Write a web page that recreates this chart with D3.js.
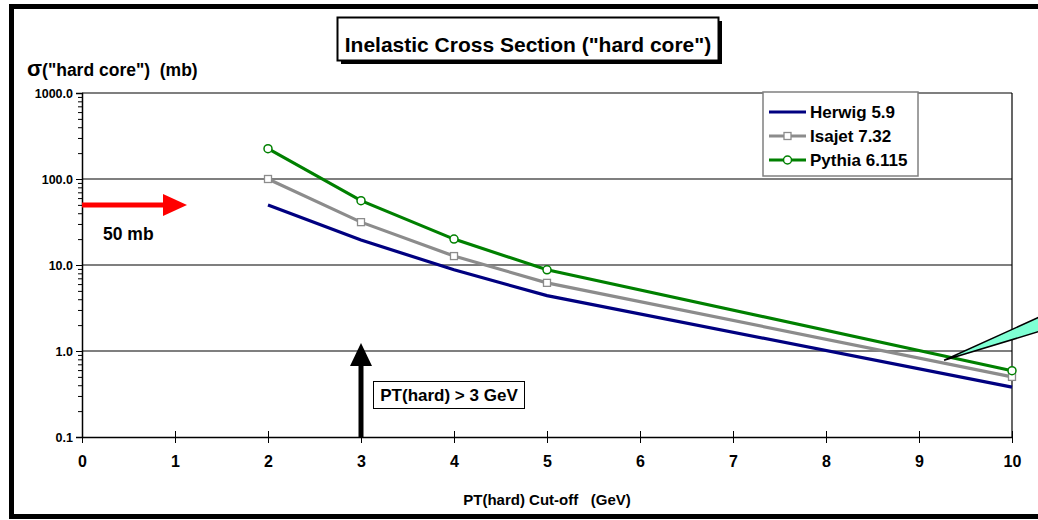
<!DOCTYPE html>
<html>
<head>
  <meta charset="utf-8">
  <script src="https://d3js.org/d3.v7.min.js"></script>
  <style>
    body { margin: 0; background: #fff; }
    svg { display: block; font-family: Arial, "Liberation Sans", sans-serif; font-weight: bold; }
  </style>
</head>
<body>
  <div id="chart"></div>
  <script>
    // cut-off values (GeV) and cross sections (mb)
    const cutoffs = [2, 3, 4, 5, 10];
    const herwig = [50, 19.5, 8.8, 4.4, 0.38];
    const isajet = [100, 31.5, 12.7, 6.2, 0.5];
    const pythia = [225, 56, 20, 8.8, 0.59];
    const xTicks = [0, 1, 2, 3, 4, 5, 6, 7, 8, 9, 10];
    const yTicks = [0.1, 1, 10, 100, 1000];

    const W = 1038, H = 520;
    const pLeft = 82, pRight = 1012, pTop = 93, pBottom = 437;

    const svg = d3.select("#chart").append("svg")
      .attr("width", W).attr("height", H);

    const x = d3.scaleLinear().domain([0, 10]).range([pLeft, pRight]);
    const y = d3.scaleLog().domain([0.1, 1000]).range([pBottom, pTop]);

    // outer frame
    svg.append("rect").attr("x", 11.5).attr("y", 6.5).attr("width", W + 20).attr("height", 510)
      .attr("fill", "none").attr("stroke", "#000").attr("stroke-width", 5);
    svg.append("line").attr("x1", 11).attr("x2", W).attr("y1", 517).attr("y2", 517)
      .attr("stroke", "#000").attr("stroke-width", 2);

    // gridlines
    svg.append("g").selectAll("line").data(yTicks.slice(1))
      .join("line")
      .attr("x1", pLeft).attr("x2", pRight)
      .attr("y1", d => y(d)).attr("y2", d => y(d))
      .attr("stroke", "#000").attr("stroke-width", 1.2);
    svg.append("line").attr("x1", pRight).attr("x2", pRight).attr("y1", pTop).attr("y2", pBottom)
      .attr("stroke", "#000").attr("stroke-width", 1.2);

    // y axis with log minor ticks
    const minor = [];
    for (let e = -1; e < 3; e++) for (let k = 2; k <= 9; k++) minor.push(k * Math.pow(10, e));
    svg.append("g").attr("transform", `translate(${pLeft},0)`)
      .call(d3.axisLeft(y).tickValues(minor).tickSize(4).tickFormat(""))
      .call(g => g.select(".domain").remove());
    const yAxis = svg.append("g").attr("transform", `translate(${pLeft},0)`)
      .call(d3.axisLeft(y).tickValues(yTicks).tickSize(6).tickFormat(d3.format(".1f")));
    yAxis.select(".domain").attr("stroke-width", 1.5);
    yAxis.selectAll("text").attr("font-size", 12.5).attr("font-weight", "bold").attr("font-family", "Arial").attr("x", -9);

    // x axis, ticks crossing the line
    const xAxis = svg.append("g").attr("transform", `translate(0,${pBottom})`)
      .call(d3.axisBottom(x).tickValues(xTicks).tickSizeInner(-6).tickSizeOuter(0).tickFormat(d3.format("d")));
    xAxis.select(".domain").attr("stroke-width", 1.5);
    xAxis.selectAll(".tick line").attr("y1", 6).attr("y2", -6);
    xAxis.selectAll("text").attr("font-size", 16).attr("font-weight", "bold").attr("font-family", "Arial").attr("y", 24).attr("dy", "0.35em");

    // series
    const series = [
      { name: "Herwig 5.9", values: herwig, color: "#000080", marker: null },
      { name: "Isajet 7.32", values: isajet, color: "#8c8c8c", marker: "square" },
      { name: "Pythia 6.115", values: pythia, color: "#008000", marker: "circle" }
    ];
    const line = d3.line().x(d => x(d[0])).y(d => y(d[1]));
    series.forEach(s => {
      const pts = cutoffs.map((c, i) => [c, s.values[i]]);
      svg.append("path").datum(pts).attr("d", line)
        .attr("fill", "none").attr("stroke", s.color).attr("stroke-width", 3.2);
      if (s.marker === "square") {
        svg.append("g").selectAll("rect").data(pts).join("rect")
          .attr("x", d => x(d[0]) - 3.5).attr("y", d => y(d[1]) - 3.5)
          .attr("width", 7).attr("height", 7)
          .attr("fill", "#fff").attr("stroke", s.color).attr("stroke-width", 1.3);
      } else if (s.marker === "circle") {
        svg.append("g").selectAll("circle").data(pts).join("circle")
          .attr("cx", d => x(d[0])).attr("cy", d => y(d[1])).attr("r", 4)
          .attr("fill", "#fff").attr("stroke", s.color).attr("stroke-width", 1.5);
      }
    });

    // teal callout wedge at right edge
    svg.append("path")
      .attr("d", `M${x(9.27)},${y(0.78)} L${W + 2},${y(2.5)} L${W + 2},${y(1.7)} Z`)
      .attr("fill", "#7fffd4").attr("stroke", "#000").attr("stroke-width", 1.5);

    // legend
    const lg = svg.append("g").attr("transform", "translate(763,92)");
    lg.append("rect").attr("width", 155).attr("height", 84)
      .attr("fill", "#fff").attr("stroke", "#808080").attr("stroke-width", 1.5);
    series.forEach((s, i) => {
      const yy = 20 + i * 24;
      lg.append("line").attr("x1", 6).attr("x2", 43).attr("y1", yy).attr("y2", yy)
        .attr("stroke", s.color).attr("stroke-width", 3.2);
      if (s.marker === "square") {
        lg.append("rect").attr("x", 21).attr("y", yy - 3.5).attr("width", 7).attr("height", 7)
          .attr("fill", "#fff").attr("stroke", s.color).attr("stroke-width", 1.3);
      } else if (s.marker === "circle") {
        lg.append("circle").attr("cx", 24.5).attr("cy", yy).attr("r", 4)
          .attr("fill", "#fff").attr("stroke", s.color).attr("stroke-width", 1.5);
      }
      lg.append("text").attr("x", 47).attr("y", yy).attr("dy", "0.36em")
        .attr("font-size", 17).text(s.name);
    });

    // red 50 mb arrow
    const ay = y(50);
    svg.append("line").attr("x1", pLeft).attr("x2", 166).attr("y1", ay).attr("y2", ay)
      .attr("stroke", "#ff0000").attr("stroke-width", 5);
    svg.append("path").attr("d", `M163,${ay - 11} L187,${ay} L163,${ay + 11} Z`).attr("fill", "#ff0000");
    svg.append("text").attr("x", 103).attr("y", 240).attr("font-size", 17.5).text("50 mb");

    // black PT arrow at x = 3
    const ax = x(3);
    svg.append("line").attr("x1", ax).attr("x2", ax).attr("y1", pBottom).attr("y2", 362)
      .attr("stroke", "#000").attr("stroke-width", 5);
    svg.append("path").attr("d", `M${ax - 11},${366} L${ax},${343} L${ax + 11},${366} Z`).attr("fill", "#000");
    svg.append("rect").attr("x", 373.5).attr("y", 381.5).attr("width", 151).attr("height", 27)
      .attr("fill", "#fff").attr("stroke", "#000").attr("stroke-width", 1);
    svg.append("text").attr("x", 449).attr("y", 395).attr("dy", "0.36em")
      .attr("text-anchor", "middle").attr("font-size", 17).text("PT(hard) > 3 GeV");

    // title box with shadow
    svg.append("rect").attr("x", 341).attr("y", 21).attr("width", 381).attr("height", 43).attr("fill", "#000");
    svg.append("rect").attr("x", 337.5).attr("y", 17.5).attr("width", 381).attr("height", 43)
      .attr("fill", "#fff").attr("stroke", "#000").attr("stroke-width", 2);
    svg.append("text").attr("x", 528).attr("y", 44).attr("dy", "0.36em")
      .attr("text-anchor", "middle").attr("font-size", 21).text('Inelastic Cross Section ("hard core")');

    // axis titles
    const yt = svg.append("text").attr("x", 27).attr("y", 76).attr("font-size", 17.5)
      .attr("xml:space", "preserve").style("white-space", "pre");
    yt.append("tspan").attr("font-size", 22).text("σ");
    yt.append("tspan").text('("hard core")  (mb)');
    svg.append("text").attr("x", 547).attr("y", 500).attr("dy", "0.36em")
      .attr("text-anchor", "middle").attr("font-size", 15)
      .attr("xml:space", "preserve").style("white-space", "pre")
      .text("PT(hard) Cut-off   (GeV)");
  </script>
</body>
</html>
